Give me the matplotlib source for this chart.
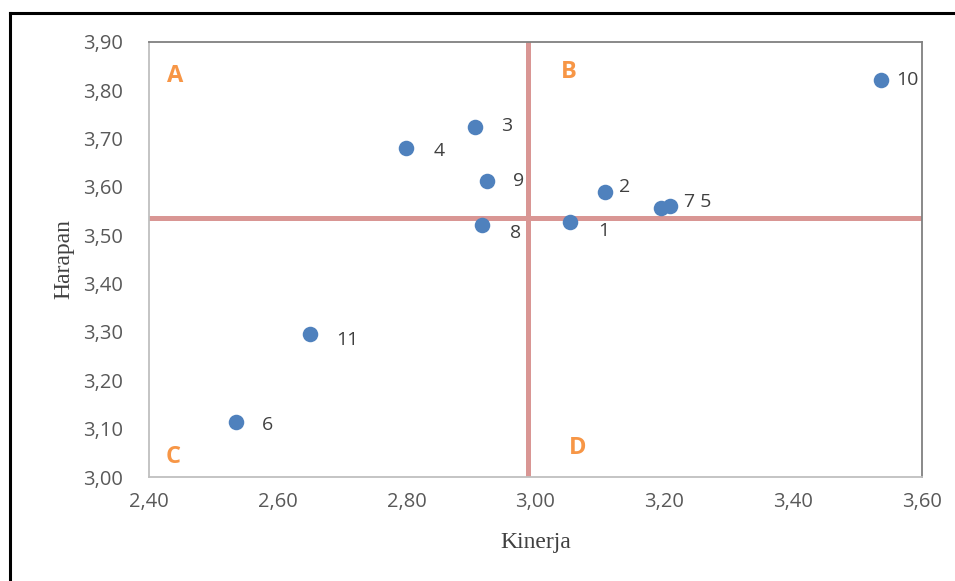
import matplotlib
matplotlib.use("Agg")
import matplotlib.pyplot as plt
from matplotlib.lines import Line2D
from matplotlib.ticker import FuncFormatter

# data
labels = ["1", "2", "3", "4", "5", "6", "7", "8", "9", "10", "11"]
kinerja = [3.054, 3.108, 2.906, 2.799, 3.209, 2.535, 3.195, 2.917, 2.925, 3.537, 2.650]
harapan = [3.527, 3.589, 3.724, 3.681, 3.560, 3.113, 3.556, 3.521, 3.612, 3.821, 3.295]
# label offsets (points) so the numbers sit like in the original
label_dx = [24, 14, 23, 24, 20, 23, 17, 24, 23, 19, 27]
label_dy = [-6, 4, 1, -2, 3, -2, 4, -6, 0, 0, -4]

x_mean = 2.989
y_mean = 3.536

quadrants = ["A", "B", "C", "D"]
quad_x = [2.441, 3.052, 2.438, 3.065]
quad_y = [3.830, 3.838, 3.041, 3.059]

fig = plt.figure(figsize=(9.55, 5.81), dpi=100)
ax = fig.add_axes([0.156, 0.179, 0.809, 0.749])

ax.axvline(x_mean, color="#d99694", lw=3.6, zorder=1)
ax.axhline(y_mean, color="#d99694", lw=3.6, zorder=1)
ax.scatter(kinerja, harapan, s=125, color="#4f81bd", zorder=3, linewidths=0)

for lab, x, y, dx, dy in zip(labels, kinerja, harapan, label_dx, label_dy):
    if lab == "7":
        continue
    txt = "7 5" if lab == "5" else lab
    ax.annotate(txt, (x, y), xytext=(dx, dy), textcoords="offset points",
                ha="center", va="center", fontsize=14, color="#404040",
                family="Open Sans")

for q, x, y in zip(quadrants, quad_x, quad_y):
    ax.text(x, y, q, fontsize=17, fontweight="bold", color="#f79646",
            family="Open Sans", ha="center", va="center")

ax.set_xlim(2.4, 3.6)
ax.set_ylim(3.0, 3.9)
ax.set_xticks([2.4, 2.6, 2.8, 3.0, 3.2, 3.4, 3.6])
ax.set_yticks([3.0, 3.1, 3.2, 3.3, 3.4, 3.5, 3.6, 3.7, 3.8, 3.9])
fmt = FuncFormatter(lambda v, p: f"{v:.2f}".replace(".", ","))
ax.xaxis.set_major_formatter(fmt)
ax.yaxis.set_major_formatter(fmt)
ax.tick_params(length=0, labelsize=14.5, labelcolor="#595959")
ax.tick_params(axis="y", pad=19)
ax.tick_params(axis="x", pad=11)
for t in ax.get_xticklabels() + ax.get_yticklabels():
    t.set_family("Open Sans")

ax.spines["left"].set_color("#bfbfbf")
ax.spines["bottom"].set_color("#bfbfbf")
ax.spines["top"].set_color("#808080")
ax.spines["right"].set_color("#808080")
for s in ax.spines.values():
    s.set_linewidth(1.3)

ax.set_xlabel("Kinerja", family="Liberation Serif", fontsize=17, color="#404040", labelpad=14)
ax.set_ylabel("Harapan", family="Liberation Serif", fontsize=17, color="#404040", labelpad=6)

# outer black frame (left and top edges visible)
fig.add_artist(Line2D([0.0105, 0.0105], [0.0, 0.978], color="black", lw=2.2, transform=fig.transFigure))
fig.add_artist(Line2D([0.0105, 1.0], [0.978, 0.978], color="black", lw=2.2, transform=fig.transFigure))

fig.savefig("out.png", dpi=100)
